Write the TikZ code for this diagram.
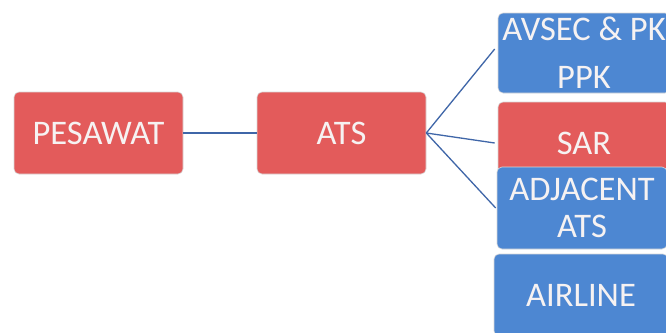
\documentclass[tikz,border=0pt]{standalone}
\usepackage{fontspec}
\setmainfont{Carlito}
\definecolor{boxred}{HTML}{E35B5B}
\definecolor{boxblue}{HTML}{4D87D2}
\definecolor{linkblue}{HTML}{3F66A8}
\definecolor{txt}{HTML}{F6F2F2}
\begin{document}
\begin{tikzpicture}[x=1pt,y=-1pt,
  box/.style={rectangle, rounded corners=5pt, draw=white!85!black, line width=0.6pt,
    text=txt, font=\fontsize{34.5}{40}\selectfont, align=center, inner sep=0pt},
  redbox/.style={box, fill=boxred},
  bluebox/.style={box, fill=boxblue},
  link/.style={draw=linkblue, line width=1.3pt}]
\useasboundingbox (0,0) rectangle (666,332);
\clip (0,0) rectangle (666,332);
\fill[white] (0,0) rectangle (666,332);
\node[redbox, minimum width=169pt, minimum height=82pt] (pes) at (98.5,133) {PESAWAT};
\node[redbox, minimum width=169pt, minimum height=82pt] (ats) at (341.5,133) {ATS};
\node[bluebox, minimum width=172pt, minimum height=80pt] (avsec) at (584,53) {AVSEC \& PK\\[8pt]PPK};
\node[redbox, minimum width=172pt, minimum height=82pt] (sar) at (584,143) {SAR};
\node[bluebox, minimum width=170pt, minimum height=82pt] (adj) at (582,208) {ADJACENT\\[-3pt]ATS};
\node[bluebox, minimum width=174pt, minimum height=82pt] (air) at (581,295) {AIRLINE};
\draw[link] (pes.east) -- (ats.west);
\draw[link] (ats.east) -- ([xshift=-3pt,yshift=4pt]avsec.west);
\draw[link] (ats.east) -- ([xshift=-3pt]sar.west);
\draw[link] (ats.east) -- ([xshift=-1pt]adj.west);
\end{tikzpicture}
\end{document}
